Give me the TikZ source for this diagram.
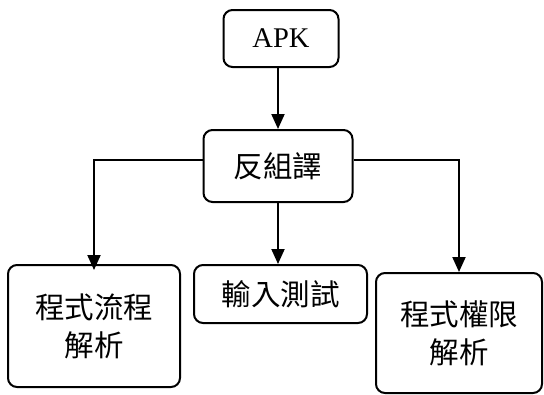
\documentclass[tikz,border=0pt]{standalone}
\usepackage{fontspec}
\setmainfont{Liberation Serif}
\newfontfamily\cjk{Noto Sans CJK TC}
\usetikzlibrary{arrows.meta}
\begin{document}
\begin{tikzpicture}[x=1pt,y=-1pt,
  box/.style={draw, line width=2pt, rounded corners=9pt, inner sep=0pt, align=center},
  arr/.style={line width=2pt, -{Triangle[width=13pt,length=15pt]}},
  ctext/.style={font=\cjk\fontsize{29.5}{38}\selectfont}]
\useasboundingbox (0,0) rectangle (544,394);
\node[box, minimum width=115pt, minimum height=57pt, font=\fontsize{28.5}{32}\selectfont] (apk) at (281,38.5) {APK};
\node[box, ctext, minimum width=149pt, minimum height=72pt] (fz) at (278,166) {反組譯};
\node[box, ctext, minimum width=172pt, minimum height=122pt] (left) at (94,326) {程式流程\\解析};
\node[box, ctext, minimum width=173pt, minimum height=58pt] (mid) at (280.5,294) {輸入測試};
\node[box, ctext, minimum width=166pt, minimum height=120pt] (right) at (459,333) {程式權限\\解析};
\draw[arr] (apk.south -| fz.north) -- (fz.north);
\draw[arr] (fz.south) -- (fz.south |- mid.north);
\draw[arr, shorten >=-6pt] ([yshift=6pt]fz.west) -| (left.north);
\draw[arr] ([yshift=6pt]fz.east) -| (right.north);
\end{tikzpicture}
\end{document}
